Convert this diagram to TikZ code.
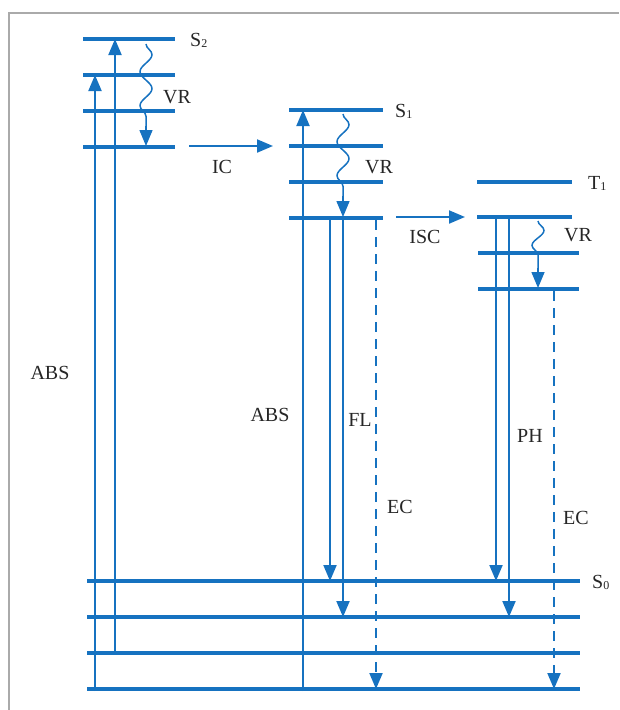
\documentclass[tikz,border=0pt]{standalone}
\usepackage{fontspec}
\setmainfont{Liberation Serif}
\usetikzlibrary{arrows.meta,decorations.pathmorphing}
\definecolor{eblue}{RGB}{22,114,192}
\definecolor{framegray}{RGB}{170,170,170}
\newcommand{\subsc}[1]{\raisebox{-1pt}{\fontsize{12}{12}\selectfont #1}}
\begin{document}
\begin{tikzpicture}[x=1pt,y=-1pt,
  level/.style={eblue,line width=3.4pt},
  tipA/.style={-{Triangle[length=16pt,width=13pt]}},
  trans/.style={eblue,line width=2pt,tipA},
  nonrad/.style={eblue,line width=2pt,dash pattern=on 10pt off 7pt,tipA},
  wave/.style={eblue,line width=1.5pt,decorate,decoration={snake,segment length=34pt,amplitude=6pt}},
  wavetip/.style={eblue,line width=1.5pt,-{Triangle[length=16pt,width=13pt]}},
  lbl/.style={font=\fontsize{20}{20}\selectfont,text=black!85,inner sep=0pt}
]
\useasboundingbox (0,0) rectangle (619,710);
\draw[framegray,line width=1.3pt] (9,710) -- (9,13) -- (619,13);

% ---- S2 levels
\draw[level] (83,39) coordinate (s2aL) -- (175,39) coordinate (s2aR);
\draw[level] (83,75) coordinate (s2bL) -- (175,75) coordinate (s2bR);
\draw[level] (83,111) coordinate (s2cL) -- (175,111) coordinate (s2cR);
\draw[level] (83,147) coordinate (s2dL) -- (175,147) coordinate (s2dR);
% ---- S1 levels
\draw[level] (289,110) coordinate (s1aL) -- (383,110) coordinate (s1aR);
\draw[level] (289,146) coordinate (s1bL) -- (383,146) coordinate (s1bR);
\draw[level] (289,182) coordinate (s1cL) -- (383,182) coordinate (s1cR);
\draw[level] (289,218) coordinate (s1dL) -- (383,218) coordinate (s1dR);
% ---- T1 levels
\draw[level] (477,182) coordinate (t1aL) -- (572,182) coordinate (t1aR);
\draw[level] (477,217) coordinate (t1bL) -- (572,217) coordinate (t1bR);
\draw[level] (478,253) coordinate (t1cL) -- (579,253) coordinate (t1cR);
\draw[level] (478,289) coordinate (t1dL) -- (579,289) coordinate (t1dR);
% ---- S0 levels
\draw[level] (87,581) coordinate (s0aL) -- (580,581) coordinate (s0aR);
\draw[level] (87,617) coordinate (s0bL) -- (580,617) coordinate (s0bR);
\draw[level] (87,653) coordinate (s0cL) -- (580,653) coordinate (s0cR);
\draw[level] (87,689) coordinate (s0dL) -- (580,689) coordinate (s0dR);

% ---- labels of states
\node[lbl,anchor=base west] (lS2) at (190,46) {S\subsc{2}};
\node[lbl,anchor=base west] (lS1) at (395,117) {S\subsc{1}};
\node[lbl,anchor=base west] (lT1) at (588,189) {T\subsc{1}};
\node[lbl,anchor=base west] (lS0) at (592,588) {S\subsc{0}};

% ---- coordinates of transitions
\coordinate (a1b) at (95,691);  \coordinate (a1t) at (95,75);
\coordinate (a2b) at (115,653); \coordinate (a2t) at (115,39);
\coordinate (a3b) at (303,691); \coordinate (a3t) at (303,110);
\coordinate (f1t) at (330,218); \coordinate (f1b) at (330,581);
\coordinate (f2t) at (343,218); \coordinate (f2b) at (343,617);
\coordinate (p1t) at (496,217); \coordinate (p1b) at (496,581);
\coordinate (p2t) at (509,217); \coordinate (p2b) at (509,617);
\coordinate (e1t) at (376,220); \coordinate (e1b) at (376,689);
\coordinate (e2t) at (554,291); \coordinate (e2b) at (554,689);
\coordinate (icS) at (189,146); \coordinate (icE) at (273,146);
\coordinate (iscS) at (396,217); \coordinate (iscE) at (465,217);
\coordinate (v1s) at (146,44);  \coordinate (v1m) at (146,126); \coordinate (v1e) at (146,146);
\coordinate (v2s) at (343,114); \coordinate (v2m) at (343,196); \coordinate (v2e) at (343,217);
\coordinate (v3s) at (538,221); \coordinate (v3m) at (538,268); \coordinate (v3e) at (538,288);

% ---- absorption
\draw[trans] (a1b) -- (a1t);
\draw[trans] (a2b) -- (a2t);
\draw[trans] (a3b) -- (a3t);
% ---- fluorescence / phosphorescence
\draw[trans] (f1t) -- (f1b);
\draw[trans] (f2t) -- (f2b);
\draw[trans] (p1t) -- (p1b);
\draw[trans] (p2t) -- (p2b);
% ---- external conversion
\draw[nonrad] (e1t) -- (e1b);
\draw[nonrad] (e2t) -- (e2b);
% ---- IC, ISC
\draw[trans] (icS) -- (icE);
\draw[trans] (iscS) -- (iscE);
% ---- vibrational relaxation
\draw[wave] (v1s) -- (v1m);
\draw[wavetip] (v1m) -- (v1e);
\draw[wave] (v2s) -- (v2m);
\draw[wavetip] (v2m) -- (v2e);
\draw[wave,decoration={snake,segment length=30pt,amplitude=6pt}] (v3s) -- (v3m);
\draw[wavetip] (v3m) -- (v3e);

% ---- process labels
\node[lbl] (lVR1) at (177,97) {VR};
\node[lbl] (lIC) at (222,167) {IC};
\node[lbl] (lVR2) at (379,167) {VR};
\node[lbl] (lISC) at (425,237) {ISC};
\node[lbl] (lVR3) at (578,235) {VR};
\node[lbl] (lABS1) at (50,373) {ABS};
\node[lbl] (lABS2) at (270,415) {ABS};
\node[lbl] (lFL) at (360,420) {FL};
\node[lbl] (lEC1) at (400,507) {EC};
\node[lbl] (lPH) at (530,436) {PH};
\node[lbl] (lEC2) at (576,518) {EC};
\end{tikzpicture}
\end{document}
